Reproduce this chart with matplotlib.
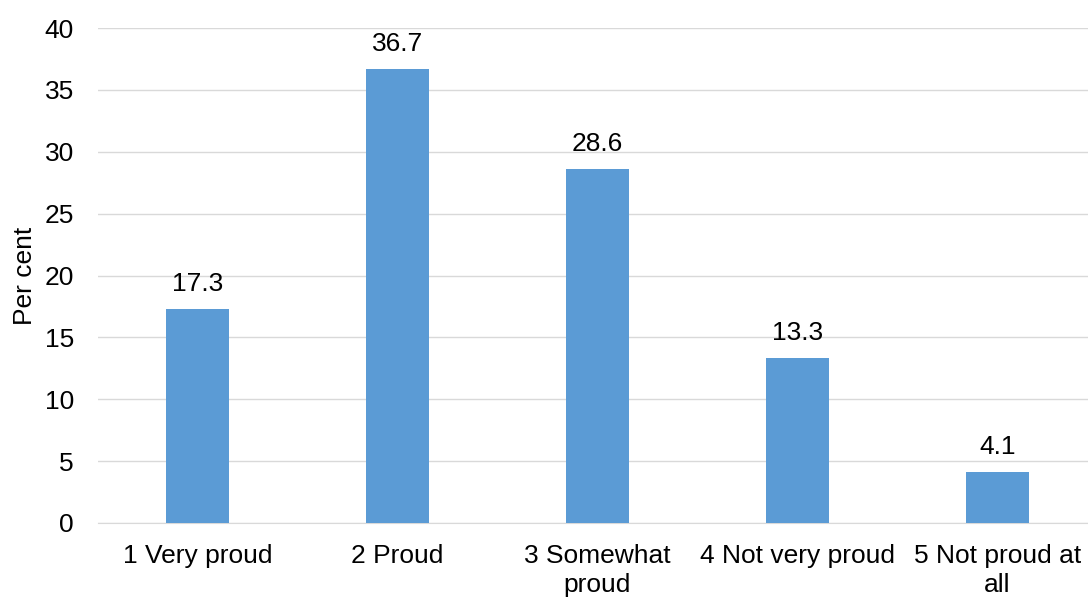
import matplotlib
matplotlib.use("Agg")
import matplotlib.pyplot as plt

categories = ["1 Very proud", "2 Proud", "3 Somewhat\nproud", "4 Not very proud", "5 Not proud at\nall"]
values = [17.3, 36.7, 28.6, 13.3, 4.1]
yticks = [0, 5, 10, 15, 20, 25, 30, 35, 40]

plt.rcParams['font.family'] = ['Liberation Sans', 'DejaVu Sans']
fs = 19

fig = plt.figure(figsize=(10.88, 5.99), dpi=100)
ax = fig.add_axes([97.5/1088, 76/599, 1000/1088, 495/599])

x = range(len(categories))
bars = ax.bar(x, values, width=0.315, color="#5B9BD5", zorder=3)
for b, v in zip(bars, values):
    ax.text(b.get_x() + b.get_width()/2, v + 1.45, f"{v:.1f}", ha="center", va="baseline", fontsize=fs)

ax.set_xlim(-0.5, len(categories) - 0.5)
ax.set_ylim(0, 40)
ax.set_yticks(yticks)
ax.set_xticks(list(x))
ax.set_xticklabels(categories, fontsize=fs, linespacing=1.25)
ax.tick_params(axis="y", labelsize=fs, length=0, pad=17)
ax.tick_params(axis="x", length=0, pad=15)
ax.yaxis.grid(True, color="#D9D9D9", linewidth=1, zorder=0)
for s in ["top", "right", "left"]:
    ax.spines[s].set_visible(False)
ax.spines["bottom"].set_color("#D9D9D9")
ax.set_ylabel("Per cent", fontsize=fs)
ax.yaxis.set_label_coords(-60/1000, 0.5)

fig.savefig("out.png", dpi=100)
